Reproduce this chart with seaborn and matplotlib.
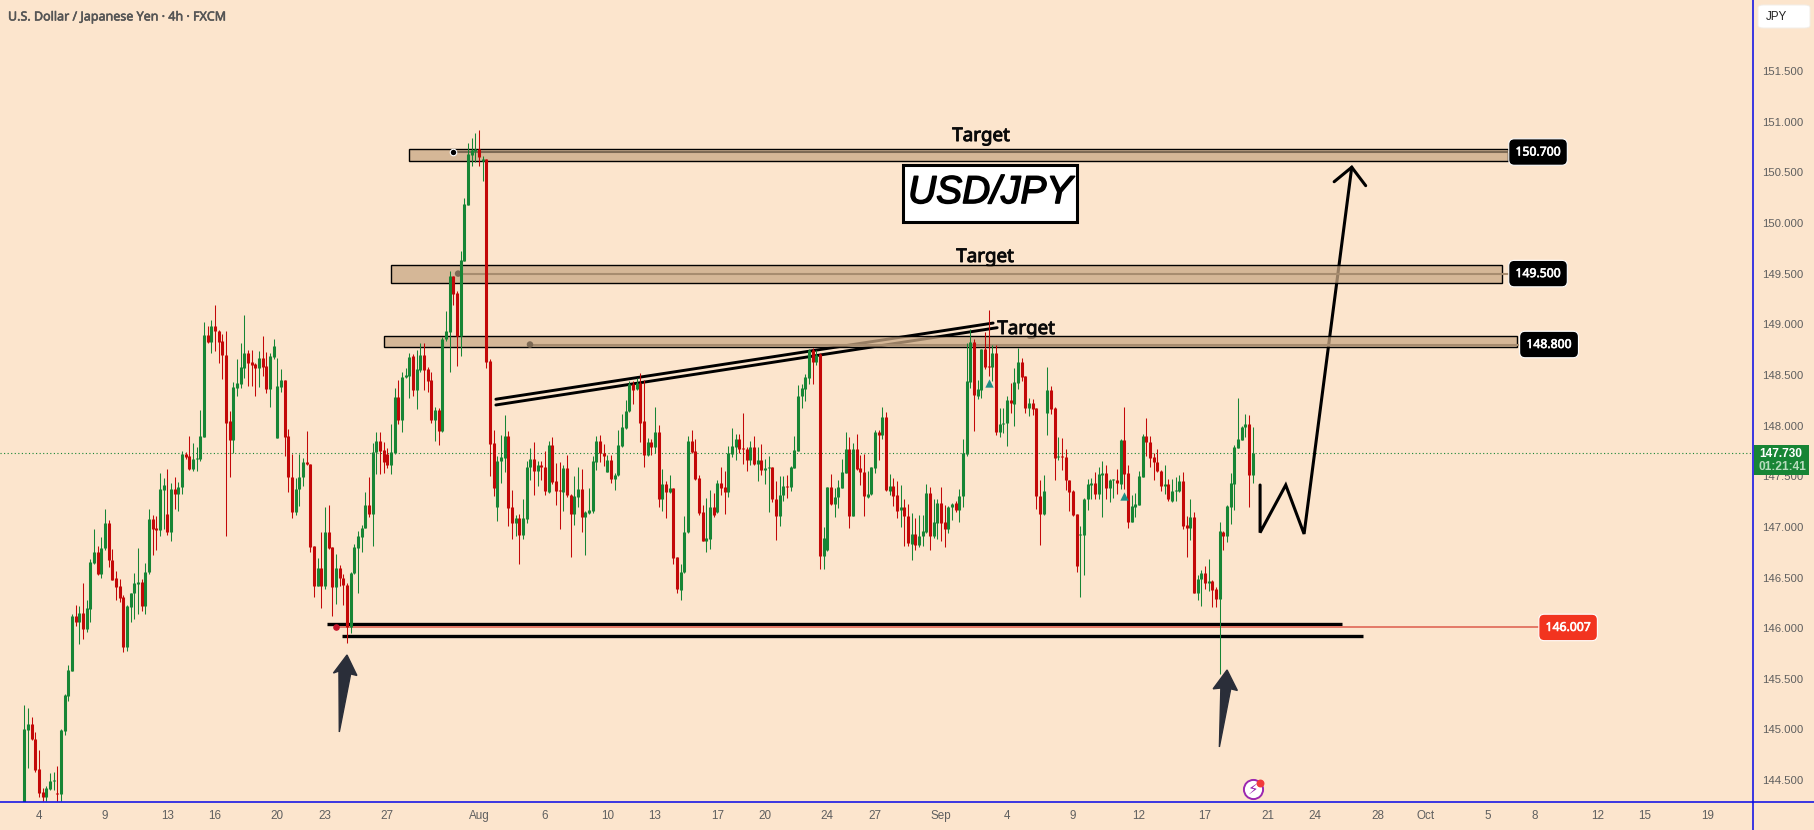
import matplotlib
matplotlib.use("Agg")
import matplotlib.pyplot as plt
import matplotlib.patheffects as pe
import numpy as np
import pandas as pd
import seaborn as sns
from matplotlib.lines import Line2D
from matplotlib.patches import Rectangle, FancyBboxPatch

# --- candle data ---
opens = [
    144.10,144.99,145.05,144.91,144.61,144.38,144.33,144.41,144.49,144.37,144.36,144.98,
    145.33,145.58,146.12,146.06,146.15,145.99,146.19,146.64,146.75,146.53,146.79,147.04,
    146.67,146.50,146.42,146.31,145.81,146.21,146.35,146.44,146.46,146.22,146.55,147.08,
    146.99,146.97,147.36,147.13,146.95,147.37,147.32,147.39,147.72,147.70,147.57,147.67,
    147.67,147.89,148.89,148.82,148.98,148.93,148.83,148.70,148.04,147.86,148.37,148.41,
    148.57,148.72,148.63,148.61,148.57,148.67,148.59,148.36,148.68,147.88,148.38,148.45,
    147.90,147.49,147.15,147.37,147.49,147.64,147.62,146.81,146.42,146.59,146.42,146.95,
    146.80,146.41,146.59,146.50,146.43,146.01,146.54,146.79,146.90,146.99,147.22,147.13,
    147.74,147.85,147.76,147.72,147.61,147.73,148.28,148.05,148.48,148.49,148.69,148.35,
    148.55,148.70,148.56,148.45,148.05,148.15,147.95,148.85,148.92,149.48,149.31,148.88,
    149.62,150.18,150.67,150.71,150.73,150.61,150.63,148.64,147.83,147.20,147.65,147.68,
    147.90,147.20,147.04,147.09,146.92,147.08,147.59,147.67,147.55,147.61,147.59,147.34,
    147.81,147.45,147.36,147.34,147.58,147.31,147.13,147.29,147.37,147.10,147.14,147.16,
    147.64,147.85,147.73,147.54,147.66,147.47,147.51,147.80,147.98,148.14,148.41,148.36,
    148.42,148.04,147.71,147.84,147.79,147.94,147.27,147.42,147.34,147.38,146.70,146.38,
    146.55,146.95,147.85,147.75,147.48,147.15,146.86,146.88,147.20,147.15,147.43,147.39,
    147.34,147.72,147.79,147.87,147.78,147.77,147.66,147.79,147.62,147.66,147.56,147.58,
    147.59,147.27,147.11,147.31,147.40,147.39,147.58,147.75,148.29,148.36,148.47,148.75,
    148.63,148.71,146.71,146.77,147.39,147.23,147.29,147.38,147.53,147.77,147.11,147.77,
    147.58,147.54,147.29,147.32,147.58,147.94,147.91,148.08,147.35,147.40,147.31,147.17,
    147.20,147.11,146.83,146.93,146.82,146.91,146.95,147.33,146.91,147.04,147.24,147.05,
    146.98,147.20,147.24,147.17,147.30,147.72,148.43,148.82,148.29,148.35,148.76,148.59,
    148.58,148.72,147.94,148.02,148.03,148.25,148.21,148.42,148.63,148.49,148.17,148.22,
    148.17,147.30,147.13,148.12,148.35,148.17,147.69,147.70,147.69,147.46,147.35,147.13,
    146.92,146.92,147.27,147.41,147.43,147.32,147.51,147.53,147.38,147.46,147.46,147.42,
    147.86,147.53,147.05,147.20,147.22,147.49,147.90,147.84,147.69,147.64,147.55,147.40,
    147.42,147.26,147.35,147.35,147.45,147.02,146.99,147.10,146.35,146.49,146.54,146.45,
    146.47,146.39,146.29,146.95,146.91,147.20,147.42,147.78,147.86,147.99,148.02,147.51,
]
highs = [
    145.24,145.21,145.12,144.97,144.80,144.42,144.44,144.57,144.58,144.64,145.00,145.35,
    145.64,146.14,146.23,146.22,146.45,146.28,146.68,146.98,146.81,146.90,147.18,147.07,
    146.78,146.56,146.49,146.33,146.23,146.35,146.54,146.79,146.49,146.64,147.18,147.12,
    147.11,147.53,147.48,147.57,147.43,147.49,147.44,147.75,147.74,147.90,147.83,147.79,
    148.15,149.02,148.98,149.04,149.19,148.94,148.90,148.93,148.14,148.43,148.66,148.81,
    149.09,148.75,148.75,148.62,148.74,148.88,148.73,148.72,148.85,148.67,148.56,148.45,
    147.97,147.72,147.48,147.72,147.68,147.95,147.62,146.81,146.69,146.95,147.20,147.22,
    146.80,146.73,146.62,146.53,146.45,146.55,146.83,146.96,147.02,147.34,147.49,147.83,
    147.94,147.94,147.84,147.78,148.02,148.37,148.45,148.53,148.57,148.72,148.71,148.75,
    148.81,148.81,148.58,148.53,148.18,148.17,148.87,149.13,149.53,149.48,149.33,149.72,
    150.25,150.79,150.84,150.89,150.92,150.66,150.63,148.66,147.96,147.70,147.91,148.10,
    147.95,147.36,147.12,147.13,147.27,147.65,147.78,147.84,147.65,147.65,147.75,147.85,
    147.89,147.63,147.64,147.61,147.71,147.32,147.50,147.59,147.57,147.16,147.38,147.70,
    147.90,147.91,147.82,147.71,147.71,147.53,147.96,148.11,148.25,148.44,148.44,148.47,
    148.52,148.45,147.88,147.87,148.18,148.01,147.57,147.45,147.51,147.38,146.70,146.63,
    147.11,147.90,147.96,147.87,147.51,147.22,147.28,147.36,147.33,147.46,147.59,147.55,
    147.80,147.98,147.92,147.92,148.12,147.79,147.85,147.90,147.79,147.82,147.67,147.70,
    147.59,147.45,147.50,147.50,147.51,147.60,147.90,148.40,148.41,148.51,148.76,148.77,
    148.75,148.72,147.00,147.39,147.52,147.38,147.46,147.67,147.94,147.89,147.83,147.92,
    147.71,147.72,147.55,147.59,147.96,147.96,148.18,148.13,147.52,147.48,147.45,147.41,
    147.27,147.23,147.14,147.09,147.12,147.12,147.42,147.39,147.27,147.27,147.39,147.22,
    147.21,147.24,147.26,147.37,147.87,148.81,148.95,148.85,148.45,148.76,148.92,149.14,
    148.80,148.80,148.17,148.17,148.29,148.42,148.57,148.77,148.67,148.49,148.27,148.26,
    148.17,147.46,147.51,148.58,148.39,148.18,147.89,147.88,147.77,147.46,147.36,147.13,
    147.01,147.28,147.47,147.48,147.54,147.59,147.65,147.61,147.47,147.47,147.57,147.87,
    148.18,147.61,147.31,147.33,147.55,147.92,148.07,147.90,147.73,147.77,147.56,147.61,
    147.47,147.47,147.49,147.51,147.54,147.11,147.27,147.15,146.52,146.57,146.61,146.68,
    146.48,146.41,147.05,146.96,147.22,147.53,147.81,148.27,148.00,148.11,148.10,147.99,
]
lows = [
    144.05,144.62,144.90,144.58,144.33,144.29,144.29,144.40,144.40,144.29,144.29,144.95,
    145.28,145.58,146.02,145.84,145.89,145.96,146.06,146.63,146.52,146.50,146.77,146.60,
    146.48,146.28,146.26,145.76,145.77,146.06,146.09,146.14,146.17,146.14,146.53,146.72,
    146.77,146.91,146.98,146.92,146.86,147.18,147.16,147.32,147.67,147.56,147.55,147.55,
    147.65,147.89,148.81,148.72,148.74,148.62,148.46,146.91,147.49,147.73,148.29,148.37,
    148.47,148.39,148.39,148.29,148.38,148.49,148.32,148.18,148.66,147.88,148.33,147.70,
    147.34,147.09,147.12,147.21,147.40,147.61,146.75,146.31,146.42,146.20,146.39,146.78,
    146.12,146.24,146.42,146.23,145.85,145.95,146.53,146.35,146.75,146.99,147.10,146.81,
    147.52,147.52,147.53,147.58,147.52,147.72,148.02,147.94,148.47,148.27,148.29,148.16,
    148.53,148.35,148.33,148.03,147.85,147.81,147.94,148.83,148.53,149.19,148.59,148.69,
    149.62,150.18,150.56,150.60,150.56,150.41,148.57,147.50,147.30,147.06,147.43,147.54,
    147.01,146.88,146.91,146.63,146.88,147.04,147.46,147.31,147.40,147.46,147.31,147.33,
    147.42,147.22,146.98,147.16,147.29,146.70,147.02,147.20,146.95,146.72,147.13,147.14,
    147.56,147.64,147.60,147.54,147.43,147.36,147.50,147.79,147.97,148.13,148.21,148.35,
    147.84,147.59,147.70,147.71,147.73,147.20,147.16,147.09,147.33,146.63,146.35,146.28,
    146.54,146.94,147.73,147.46,147.12,146.86,146.75,146.78,147.10,147.14,147.31,147.13,
    147.29,147.69,147.66,147.73,147.62,147.55,147.61,147.61,147.45,147.51,147.42,147.15,
    147.25,146.87,147.01,147.26,147.28,147.35,147.58,147.75,148.17,148.24,148.41,148.41,
    148.60,146.58,146.58,146.76,147.22,147.10,147.19,147.38,147.53,146.99,147.11,147.56,
    147.41,147.11,147.28,147.31,147.53,147.66,147.87,147.35,147.31,147.21,147.09,147.00,
    146.81,146.81,146.67,146.77,146.80,146.81,146.94,146.77,146.89,146.88,146.86,146.80,
    146.94,147.07,147.15,147.05,147.20,147.70,148.37,147.95,148.26,148.27,148.56,148.49,
    148.44,147.91,147.89,147.93,147.80,148.12,148.00,148.36,148.44,148.12,148.09,148.10,
    147.18,146.82,147.12,147.91,148.11,147.46,147.66,147.56,147.36,147.16,147.11,146.55,
    146.31,146.52,147.17,147.27,147.27,147.27,147.10,147.27,147.25,147.28,147.32,147.37,
    147.37,146.99,147.05,147.10,147.22,147.49,147.70,147.59,147.46,147.54,147.35,147.32,
    147.26,147.25,147.26,147.34,146.98,146.70,146.87,146.35,146.28,146.22,146.39,146.37,
    146.21,146.21,145.55,146.77,146.85,147.03,147.17,147.78,147.86,147.89,147.20,147.43,
]
closes = [
    145.00,145.05,144.91,144.60,144.37,144.33,144.42,144.49,144.50,144.36,144.99,145.34,
    145.59,146.12,146.06,146.15,145.99,146.20,146.65,146.75,146.53,146.79,147.04,146.67,
    146.48,146.41,146.30,145.81,146.22,146.35,146.45,146.46,146.22,146.55,147.08,146.98,
    146.97,147.37,147.41,146.95,147.37,147.32,147.39,147.72,147.69,147.57,147.67,147.68,
    147.90,148.89,148.82,148.98,148.93,148.82,148.70,148.03,147.86,148.38,148.42,148.58,
    148.72,148.62,148.60,148.57,148.67,148.58,148.36,148.69,148.79,148.39,148.45,147.89,
    147.49,147.15,147.37,147.49,147.64,147.62,146.80,146.42,146.59,146.42,146.95,146.79,
    146.41,146.59,146.50,146.43,146.01,146.54,146.80,146.91,146.99,147.22,147.13,147.74,
    147.85,147.75,147.64,147.61,147.74,148.28,148.05,148.48,148.50,148.68,148.35,148.56,
    148.70,148.55,148.44,148.05,148.15,147.95,148.85,148.93,149.48,149.30,148.88,149.63,
    150.19,150.68,150.72,150.73,150.65,150.63,148.63,147.82,147.38,147.65,147.69,147.90,
    147.19,147.04,147.09,146.92,147.09,147.59,147.67,147.55,147.61,147.59,147.35,147.81,
    147.44,147.35,147.35,147.58,147.31,147.13,147.30,147.37,147.10,147.15,147.17,147.65,
    147.85,147.73,147.70,147.66,147.47,147.51,147.81,147.99,148.14,148.41,148.35,148.42,
    148.03,147.71,147.84,147.79,147.94,147.27,147.42,147.34,147.38,146.69,146.39,146.55,
    146.95,147.85,147.74,147.47,147.14,146.86,146.89,147.20,147.12,147.43,147.38,147.34,
    147.73,147.80,147.87,147.77,147.77,147.66,147.79,147.62,147.66,147.56,147.58,147.59,
    147.27,147.11,147.31,147.40,147.39,147.59,147.76,148.29,148.37,148.48,148.75,148.63,
    148.70,146.71,146.89,147.39,147.23,147.29,147.39,147.54,147.77,147.11,147.77,147.57,
    147.54,147.30,147.32,147.59,147.94,147.91,148.08,147.36,147.40,147.30,147.16,147.20,
    147.11,146.84,146.93,146.82,146.91,146.96,147.33,146.91,147.05,147.24,147.04,146.98,
    147.20,147.23,147.17,147.30,147.73,148.44,148.82,148.30,148.36,148.76,148.58,148.58,
    148.72,147.94,148.02,148.03,148.25,148.22,148.43,148.63,148.48,148.17,148.22,148.16,
    147.30,147.13,147.35,148.35,148.16,147.68,147.70,147.69,147.46,147.34,147.12,146.61,
    146.93,147.27,147.42,147.43,147.32,147.52,147.53,147.38,147.46,147.47,147.43,147.86,
    147.52,147.05,147.21,147.23,147.50,147.90,147.84,147.68,147.64,147.55,147.40,147.42,
    147.27,147.35,147.36,147.45,147.01,146.99,147.10,146.35,146.49,146.54,146.45,146.47,
    146.38,146.29,146.96,146.91,147.21,147.43,147.79,147.87,147.99,148.02,147.51,147.73,
]

# --- axis labels ---
y_ticks = [144.5, 145.0, 145.5, 146.0, 146.5, 147.0, 147.5, 148.0, 148.5, 149.0, 149.5, 150.0, 150.5, 151.0, 151.5]
x_tick_bars = [4, 22, 39, 52, 69, 82, 99, 124, 142, 159, 172, 189, 202, 219, 232, 250, 268,
               286, 304, 322, 339, 352, 369, 382, 399, 412, 429, 442, 459]
x_tick_labels = ["4", "9", "13", "16", "20", "23", "27", "Aug", "6", "10", "13", "17", "20", "24", "27",
                 "Sep", "4", "9", "12", "17", "21", "24", "28", "Oct", "5", "8", "12", "15", "19"]

# --- drawings on the chart (bar index, price) ---
zone_left = [104.9, 100.0, 98.1]
zone_right = [404.6, 403.0, 407.0]
zone_top = [150.727, 149.585, 148.884]
zone_bottom = [150.609, 149.407, 148.772]
zone_level = [150.700, 149.500, 148.800]
level_start = [116.9, 118.3, 137.9]
level_end = [405.0, 405.0, 408.0]
level_label_bar = [412.8, 412.8, 415.8]
level_line_colors = ["#7d6a55", "#a78c6f", "#a78c6f"]
level_dot_colors = ["#000000", "#7d6a55", "#7d6a55"]
target_bars = [260.9, 262.0, 273.2]
target_prices = [150.858, 149.664, 148.953]

support_start = [82.5, 86.6]
support_end = [359.3, 365.0]
support_price = [146.045, 145.927]
entry_price = 146.007
last_price = 147.73

channel_bars = [128.6, 264.2, 128.6, 265.3]
channel_prices = [148.26, 149.012, 148.203, 148.966]
path_bars = [337, 337, 344, 349, 362]
path_prices = [147.413, 146.943, 147.413, 146.93, 150.55]
head_bars = [357.2, 362, 365.8]
head_prices = [150.407, 150.55, 150.368]
arrow1_bars = [88, 90.7, 89, 85.9, 85.8, 84.3]
arrow1_prices = [145.735, 145.533, 145.548, 144.975, 145.577, 145.557]
arrow2_bars = [328, 330.8, 329, 325.9, 326.3, 324.2]
arrow2_prices = [145.587, 145.385, 145.401, 144.827, 145.409, 145.401]
signal_bars = [263.2, 300]
signal_prices = [148.42, 147.30]

BG = "#fce5cd"
GREEN = "#178535"
RED = "#c30808"
BLUE = "#0505e6"
W, H = 1815, 830
AX_R, AX_B = 1753, 802


def long_form(low_vals, high_vals, sides):
    # two rows per candle so lineplot draws one vertical stroke for each unit
    bars = np.arange(len(low_vals))
    return pd.DataFrame({
        "bar": np.concatenate([bars, bars]),
        "price": np.concatenate([low_vals, high_vals]),
        "side": np.concatenate([sides, sides]),
    })


def heavy(width, color):
    # the installed Noto Sans has no bold cut here, so thicken the strokes
    return [pe.withStroke(linewidth=width, foreground=color)]


sns.set_theme(style="white", rc={"axes.facecolor": BG, "figure.facecolor": BG})
plt.rcParams["font.family"] = ["Noto Sans", "DejaVu Sans"]

fig = plt.figure(figsize=(W / 100, H / 100), dpi=100)
ax = fig.add_axes([0, (H - AX_B) / H, AX_R / W, AX_B / H])
ax.set_facecolor(BG)

df = pd.DataFrame({"open": opens, "high": highs, "low": lows, "close": closes})
df["side"] = np.where(df["close"] >= df["open"], "up", "down")
palette = {"up": GREEN, "down": RED}

wicks = long_form(df["low"].values, df["high"].values, df["side"].values)
bodies = long_form(df[["open", "close"]].min(axis=1).values, df[["open", "close"]].max(axis=1).values, df["side"].values)
sns.lineplot(data=wicks, x="bar", y="price", hue="side", units="bar", estimator=None, sort=False,
             palette=palette, linewidth=0.75, legend=False, ax=ax, zorder=4, solid_capstyle="butt")
sns.lineplot(data=bodies, x="bar", y="price", hue="side", units="bar", estimator=None, sort=False,
             palette=palette, linewidth=2.2, legend=False, ax=ax, zorder=4.1, solid_capstyle="butt")

# last price
ax.axhline(last_price, color=GREEN, lw=0.8, ls=(0, (1, 2.2)), zorder=1)

# target zones
for i in range(3):
    ax.add_patch(Rectangle((zone_left[i], zone_bottom[i]), zone_right[i] - zone_left[i],
                           zone_top[i] - zone_bottom[i], facecolor=(201 / 255, 168 / 255, 133 / 255, 0.75),
                           edgecolor="black", lw=1.0, zorder=3))
    ax.plot([level_start[i], level_end[i]], [zone_level[i], zone_level[i]], color=level_line_colors[i], lw=1.5, zorder=3.2)
    ax.scatter([level_start[i]], [zone_level[i]], s=22, color=level_dot_colors[i],
               edgecolor="white" if i == 0 else "none", linewidth=0.8, zorder=3.3)
    ax.text(level_label_bar[i], zone_level[i], f"{zone_level[i]:.3f}", color="white", fontsize=8.8,
            ha="center", va="center", zorder=6, path_effects=heavy(0.45, "white"),
            bbox=dict(boxstyle="round,pad=0.55,rounding_size=0.45", fc="black", ec="white", lw=0.8))
    ax.text(target_bars[i], target_prices[i], "Target", color="#0a0a0a", fontsize=13.5,
            ha="center", va="center", zorder=2, path_effects=heavy(0.7, "#0a0a0a"))

# support lines
for i in range(2):
    ax.plot([support_start[i], support_end[i]], [support_price[i], support_price[i]], color="black", lw=2.4,
            solid_capstyle="butt", zorder=2)
ax.plot([85, 413], [entry_price, entry_price], color="#e2705f", lw=1.3, zorder=2.5)
ax.scatter([85], [entry_price], s=14, color="#c4142a", zorder=2.6)
ax.text(421, entry_price, f"{entry_price:.3f}", color="white", fontsize=8.8, ha="center", va="center",
        zorder=6, path_effects=heavy(0.45, "white"),
        bbox=dict(boxstyle="round,pad=0.55,rounding_size=0.45", fc="#f2341f", ec="white", lw=0.8))

# rising channel
ax.plot(channel_bars[:2], channel_prices[:2], color="black", lw=2.1, solid_capstyle="round", zorder=2)
ax.plot(channel_bars[2:], channel_prices[2:], color="black", lw=2.1, solid_capstyle="round", zorder=2)

# projected path
ax.plot(path_bars, path_prices, color="black", lw=2.2, solid_joinstyle="miter", solid_capstyle="round", zorder=2)
ax.plot(head_bars, head_prices, color="black", lw=2.2, solid_joinstyle="miter", solid_capstyle="round", zorder=2)

# big arrows
ax.fill(arrow1_bars, arrow1_prices, color="#2a2e39", zorder=5)
ax.fill(arrow2_bars, arrow2_prices, color="#2a2e39", zorder=5)

# small markers
sns.scatterplot(x=signal_bars, y=signal_prices, marker="^", s=36, color="#1f8f86", linewidth=0, legend=False, ax=ax, zorder=5)
ax.scatter([335], [144.41], s=190, facecolor="white", edgecolor="#9c27b0", linewidth=1.4, zorder=5)
ax.text(335, 144.405, "\u26a1", color="#9c27b0", fontsize=11, ha="center", va="center", zorder=6, family="DejaVu Sans")
ax.scatter([337], [144.475], s=22, color="#f23a3a", zorder=6)

# title box
ax.add_patch(Rectangle((239.6, 150.012), 47.6, 0.56, facecolor="white", edgecolor="black", lw=2.2, zorder=5))
ax.text(263.4, 150.295, "USD/JPY", fontsize=28, style="italic", family="Liberation Sans", color="black",
        ha="center", va="center", zorder=6, path_effects=heavy(1.1, "black"))

ax.set_xlim(-24.3 / 3.667, (AX_R - 24.3) / 3.667)
ax.set_ylim(151.5 - (AX_B - 71) / 101.3, 151.5 + 71 / 101.3)
ax.set_xlabel("")
ax.set_ylabel("")
ax.yaxis.tick_right()
ax.set_yticks(y_ticks)
ax.set_yticklabels([f"{v:.3f}" for v in y_ticks], fontsize=8.2, color="#5f5f5f", family="Liberation Sans")
ax.set_xticks(x_tick_bars)
ax.set_xticklabels(x_tick_labels, fontsize=8.4, color="#5f5f5f", family="Liberation Sans")
ax.tick_params(axis="both", length=0)
ax.tick_params(axis="y", pad=6.5)
ax.tick_params(axis="x", pad=6)
sns.despine(ax=ax, left=True, right=True, top=True, bottom=True)
ax.grid(False)

# chart frame and scale chrome
fig.add_artist(Line2D([0, 1], [(H - AX_B) / H] * 2, color=BLUE, lw=1.1))
fig.add_artist(Line2D([AX_R / W] * 2, [0, 1], color=BLUE, lw=1.1))
fig.text(8 / W, 1 - 17 / H, "U.S. Dollar / Japanese Yen \u00b7 4h \u00b7 FXCM", fontsize=9, color="#555555",
         va="center", ha="left", path_effects=heavy(0.4, "#555555"))
fig.add_artist(FancyBboxPatch((1758 / W, 1 - 28 / H), 52 / W, 23 / H, boxstyle="round,pad=0,rounding_size=0.003",
                              transform=fig.transFigure, fc="white", ec="#f2eee8", lw=0.7))
fig.text(1766 / W, 1 - 17 / H, "JPY", fontsize=8.4, color="#222222", va="center", ha="left", family="Liberation Sans")
fig.add_artist(Rectangle((1754 / W, 1 - 475 / H), 55 / W, 30 / H, transform=fig.transFigure, fc=GREEN, ec="none"))
fig.text(1781 / W, 1 - 454 / H, "147.730", fontsize=8.6, color="white", fontweight="bold", va="center", ha="center",
         family="Liberation Sans")
fig.text(1782 / W, 1 - 467 / H, "01:21:41", fontsize=8.6, color="#b7dcbd", fontweight="bold", va="center", ha="center",
         family="Liberation Sans")

fig.savefig("out.png", dpi=100, facecolor=BG)
